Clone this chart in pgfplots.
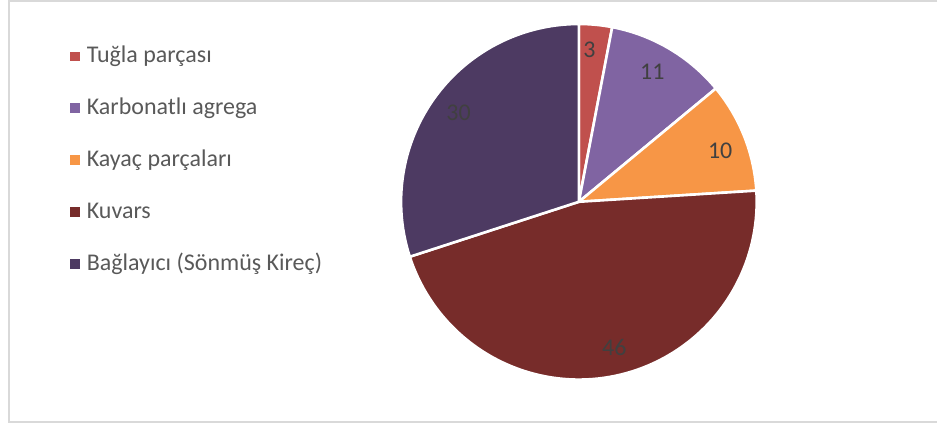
\documentclass[border=0pt]{standalone}
\usepackage{fontspec}
\setmainfont{Carlito}
\usepackage{pgfplots}
\pgfplotsset{compat=1.18}
\definecolor{cTugla}{HTML}{C0504D}
\definecolor{cKarb}{HTML}{8064A2}
\definecolor{cKayac}{HTML}{F79646}
\definecolor{cKuv}{HTML}{772C2A}
\definecolor{cBag}{HTML}{4D3A62}
\definecolor{legtext}{HTML}{595959}
\definecolor{labtext}{HTML}{404040}
\definecolor{frame}{HTML}{D9D9D9}
\begin{document}
\begin{tikzpicture}
\begin{axis}[
  width=469bp, height=212.5bp, scale only axis,
  xmin=0, xmax=938, ymin=0, ymax=425, y dir=reverse,
  hide axis, clip=false,
  legend style={at={(axis cs:64,40)}, anchor=north west, draw=none, fill=none,
    font=\fontsize{12bp}{14bp}\selectfont, text=legtext,
    nodes={inner xsep=3.5bp, inner ysep=0pt, text height=9bp, text depth=3bp},
    row sep=14bp},
  legend cell align=left,
  legend image code/.code={\fill[#1,draw=none] (0bp,-2.4bp) rectangle (4.8bp,2.4bp);},
]
\path (axis cs:0,0) rectangle (axis cs:938,425);
\draw[frame, line width=1bp] (axis cs:938,1) -- (axis cs:9,1) -- (axis cs:9,422) -- (axis cs:938,422);
% values (percent): 3, 11, 10, 46, 30 -> cumulative domains
\addplot[fill=cTugla, draw=white, line width=1.3bp, domain=0:3, samples=10, variable=\t]
  ({579.5+178*sin(3.6*\t)},{202-178*cos(3.6*\t)}) -- (axis cs:579.5,202) -- cycle;
\addlegendentry{Tuğla parçası}
\addplot[fill=cKarb, draw=white, line width=1.3bp, domain=3:14, samples=30, variable=\t]
  ({579.5+178*sin(3.6*\t)},{202-178*cos(3.6*\t)}) -- (axis cs:579.5,202) -- cycle;
\addlegendentry{Karbonatlı agrega}
\addplot[fill=cKayac, draw=white, line width=1.3bp, domain=14:24, samples=30, variable=\t]
  ({579.5+178*sin(3.6*\t)},{202-178*cos(3.6*\t)}) -- (axis cs:579.5,202) -- cycle;
\addlegendentry{Kayaç parçaları}
\addplot[fill=cKuv, draw=white, line width=1.3bp, domain=24:70, samples=90, variable=\t]
  ({579.5+178*sin(3.6*\t)},{202-178*cos(3.6*\t)}) -- (axis cs:579.5,202) -- cycle;
\addlegendentry{Kuvars}
\addplot[fill=cBag, draw=white, line width=1.3bp, domain=70:100, samples=60, variable=\t]
  ({579.5+178*sin(3.6*\t)},{202-178*cos(3.6*\t)}) -- (axis cs:579.5,202) -- cycle;
\addlegendentry{Bağlayıcı (Sönmüş Kireç)}
\addplot[forget plot, only marks, mark=none, point meta=explicit symbolic,
  nodes near coords, nodes near coords align=center,
  every node near coord/.style={anchor=center, font=\fontsize{12bp}{14bp}\selectfont, text=labtext}]
  table[meta=lab] {
x y lab
590 50 3
653 72 11
721 151 10
615 348 46
459 113 30
};
\end{axis}
\end{tikzpicture}
\end{document}
